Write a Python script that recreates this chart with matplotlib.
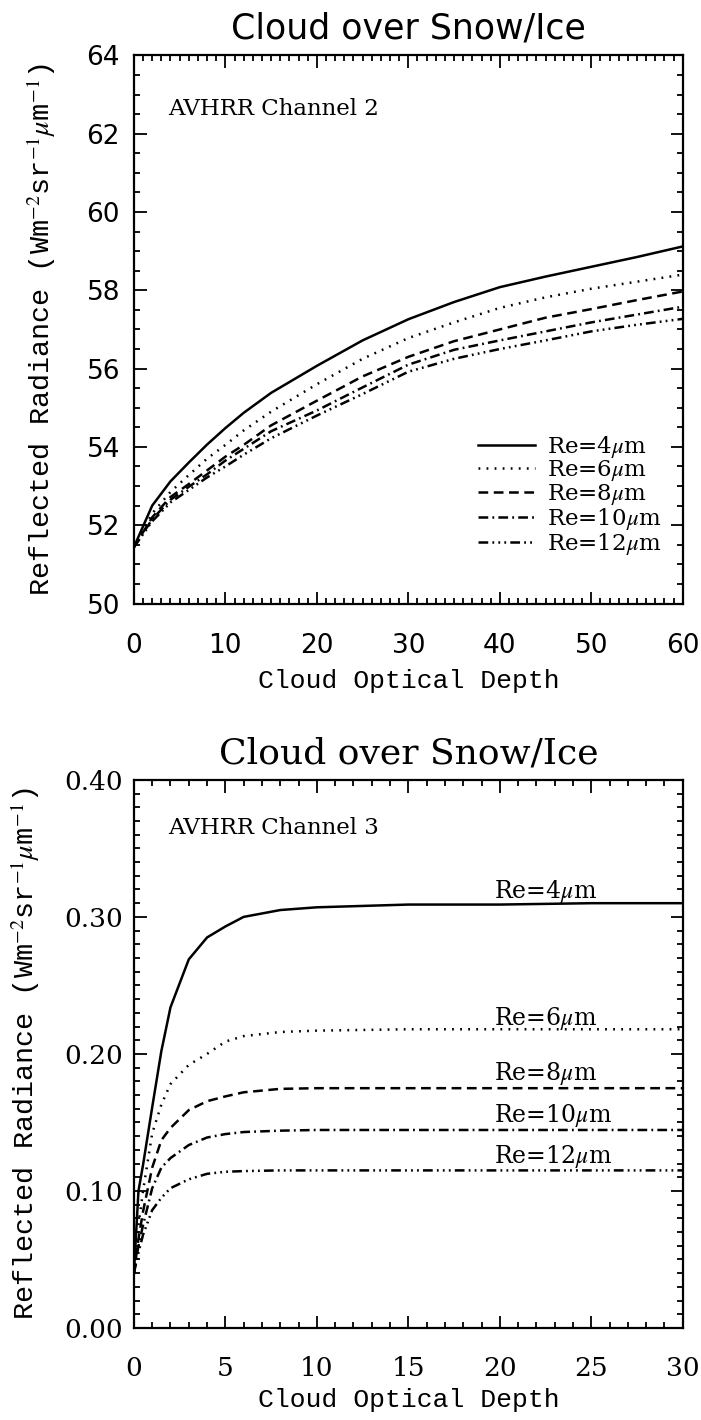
import matplotlib
matplotlib.use("Agg")
import matplotlib.pyplot as plt
from matplotlib.ticker import MultipleLocator, FormatStrFormatter

plt.rcParams['mathtext.fontset'] = 'stix'
plt.rcParams['lines.scale_dashes'] = False

# ---- data: AVHRR channel 2 (cloud optical depth 0-60)
tau2 = [0, 2, 4, 6, 8, 10, 12, 15, 20, 25, 30, 35, 40, 45, 50, 55, 60]
ch2_re4 = [51.44, 52.50, 53.12, 53.60, 54.06, 54.48, 54.87, 55.38, 56.07, 56.72, 57.26, 57.70, 58.08, 58.35, 58.60, 58.85, 59.12]
ch2_re6 = [51.44, 52.30, 52.85, 53.28, 53.70, 54.05, 54.42, 54.90, 55.60, 56.25, 56.78, 57.18, 57.55, 57.82, 58.04, 58.22, 58.40]
ch2_re8 = [51.44, 52.20, 52.72, 53.05, 53.40, 53.75, 54.05, 54.55, 55.18, 55.80, 56.30, 56.70, 57.00, 57.30, 57.52, 57.75, 57.97]
ch2_re10 = [51.44, 52.15, 52.65, 52.98, 53.30, 53.65, 53.95, 54.40, 54.93, 55.52, 56.10, 56.48, 56.72, 56.95, 57.18, 57.38, 57.58]
ch2_re12 = [51.44, 52.10, 52.58, 52.90, 53.22, 53.50, 53.80, 54.22, 54.80, 55.35, 55.92, 56.25, 56.50, 56.72, 56.95, 57.12, 57.27]

# ---- data: AVHRR channel 3 (cloud optical depth 0-30)
tau3 = [0, 0.25, 0.5, 1, 1.5, 2, 3, 4, 5, 6, 8, 10, 15, 20, 25, 30]
ch3_re4 = [0.040, 0.100, 0.119, 0.161, 0.202, 0.234, 0.269, 0.285, 0.293, 0.300, 0.305, 0.307, 0.309, 0.309, 0.310, 0.310]
ch3_re6 = [0.040, 0.075, 0.100, 0.142, 0.163, 0.178, 0.192, 0.200, 0.209, 0.213, 0.216, 0.217, 0.218, 0.218, 0.218, 0.218]
ch3_re8 = [0.040, 0.065, 0.085, 0.117, 0.137, 0.146, 0.159, 0.1655, 0.169, 0.172, 0.1745, 0.175, 0.175, 0.175, 0.175, 0.175]
ch3_re10 = [0.040, 0.060, 0.075, 0.102, 0.117, 0.124, 0.1335, 0.139, 0.1415, 0.143, 0.144, 0.1445, 0.1445, 0.1445, 0.1445, 0.1445]
ch3_re12 = [0.040, 0.055, 0.068, 0.086, 0.095, 0.102, 0.1085, 0.1125, 0.114, 0.1145, 0.115, 0.115, 0.115, 0.115, 0.115, 0.115]

labels = [r'Re=4$\mu$m', r'Re=6$\mu$m', r'Re=8$\mu$m', r'Re=10$\mu$m', r'Re=12$\mu$m']
# where the labels sit in the channel 3 panel (data coords)
ch3_label_x = 19.7
ch3_label_y = [0.3188, 0.2255, 0.1855, 0.1551, 0.1251]

styles = ['-', (0, (1.3, 4.5)), (0, (7, 4)), (0, (7, 3, 1.3, 3)),
          (0, (7, 3, 1.3, 3, 1.3, 3, 1.3, 3))]

fig = plt.figure(figsize=(7.01, 14.2), dpi=100)
ax1 = fig.add_axes([0.191, 0.575, 0.783, 0.386])
ax2 = fig.add_axes([0.191, 0.0648, 0.783, 0.386])

mono = 'Liberation Mono'
lw = 1.8

# top panel
for ys, ls, lab in zip([ch2_re4, ch2_re6, ch2_re8, ch2_re10, ch2_re12], styles, labels):
    ax1.plot(tau2, ys, color='black', lw=lw, linestyle=ls, label=lab)
ax1.set_xlim(0, 60)
ax1.set_ylim(50, 64)
ax1.xaxis.set_major_locator(MultipleLocator(10))
ax1.xaxis.set_minor_locator(MultipleLocator(1))
ax1.yaxis.set_major_locator(MultipleLocator(2))
ax1.yaxis.set_minor_locator(MultipleLocator(0.5))
ax1.set_title('Cloud over Snow/Ice', fontsize=25, family='DejaVu Sans', pad=12)
ax1.text(0.062, 0.903, 'AVHRR Channel 2', transform=ax1.transAxes, fontsize=16.5,
         family='DejaVu Serif', va='center', ha='left')
leg = ax1.legend(loc='upper left', bbox_to_anchor=(0.627, 0.31), frameon=False,
                 prop={'family': 'DejaVu Serif', 'size': 16.5}, handlelength=2.5,
                 handletextpad=0.5, labelspacing=-0.05, borderpad=0, borderaxespad=0)
ax1.tick_params(axis='both', which='major', labelsize=19, labelfontfamily='DejaVu Sans')
ax1.tick_params(axis='x', which='major', pad=21)
ax1.tick_params(axis='y', which='major', pad=10)

# bottom panel
for ys, ls, lab, ly in zip([ch3_re4, ch3_re6, ch3_re8, ch3_re10, ch3_re12], styles, labels, ch3_label_y):
    ax2.plot(tau3, ys, color='black', lw=lw, linestyle=ls)
    ax2.text(ch3_label_x, ly, lab, fontsize=17, family='DejaVu Serif', va='center', ha='left')
ax2.set_xlim(0, 30)
ax2.set_ylim(0, 0.4)
ax2.xaxis.set_major_locator(MultipleLocator(5))
ax2.xaxis.set_minor_locator(MultipleLocator(1))
ax2.yaxis.set_major_locator(MultipleLocator(0.1))
ax2.yaxis.set_minor_locator(MultipleLocator(0.01))
ax2.yaxis.set_major_formatter(FormatStrFormatter('%.2f'))
ax2.set_title('Cloud over Snow/Ice', fontsize=26, family='DejaVu Serif', pad=12)
ax2.text(0.062, 0.912, 'AVHRR Channel 3', transform=ax2.transAxes, fontsize=16.5,
         family='DejaVu Serif', va='center', ha='left')
ax2.tick_params(axis='both', which='major', labelsize=19, labelfontfamily='DejaVu Serif')
ax2.tick_params(axis='x', which='major', pad=20)
ax2.tick_params(axis='y', which='major', pad=8)

ylab = r'Reflected Radiance (Wm$^{-2}$sr$^{-1}\mu$m$^{-1}$)'
for ax, ylx in [(ax1, -0.138), (ax2, -0.167)]:
    ax.tick_params(which='both', direction='in', top=True, right=True, width=1.3)
    ax.tick_params(which='major', length=9)
    ax.tick_params(which='minor', length=4.5)
    for sp in ax.spines.values():
        sp.set_linewidth(1.6)
    ax.set_xlabel('Cloud Optical Depth', fontsize=19, family=mono)
    ax.set_ylabel(ylab, fontsize=20.5, family=mono)
    ax.yaxis.set_label_coords(ylx, 0.5)

ax1.xaxis.set_label_coords(0.5, -0.12)
ax2.xaxis.set_label_coords(0.5, -0.11)

fig.savefig('out.png', dpi=100)
